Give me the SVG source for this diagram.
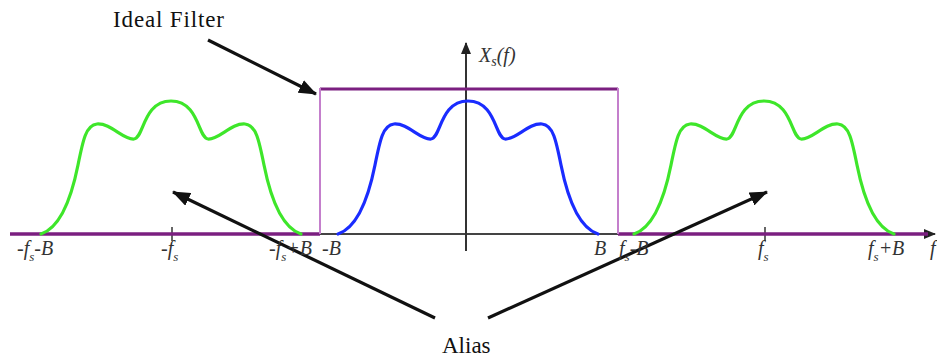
<svg xmlns="http://www.w3.org/2000/svg" width="937" height="358" viewBox="0 0 937 358">
<style>
.lbl{font-family:"Liberation Serif","Times New Roman",serif;font-style:italic;font-size:20px;fill:#333}
.cap{font-family:"Liberation Serif","Times New Roman",serif;font-size:23px;fill:#111}
.spec{fill:none;stroke-width:3.2;stroke-linecap:round}
.ptr{stroke:#111;stroke-width:3.2;fill:none}
</style>
<defs>
<path id="spectrum" d="M -130,234 C -112,228 -100,200 -93,165 C -88,140 -85,125 -74,124 C -60,123 -48,140 -37,139 C -27,138 -28,101 0,101 C 28,101 27,138 37,139 C 48,140 60,123 74,124 C 85,125 88,140 93,165 C 100,200 112,228 130,234"/>
<marker id="ah" markerUnits="userSpaceOnUse" markerWidth="18" markerHeight="14" refX="17" refY="7" orient="auto"><path d="M0,0 L18,7 L0,14 Z" fill="#111"/></marker>
<marker id="axh" markerUnits="userSpaceOnUse" markerWidth="12" markerHeight="10" refX="11" refY="5" orient="auto"><path d="M0,0 L12,5 L0,10 Z" fill="#222"/></marker>
</defs>
<g id="axes">
<line x1="10" y1="234" x2="935" y2="234" stroke="#444" stroke-width="2" marker-end="url(#axh)"/>
<line x1="466" y1="251" x2="466" y2="43" stroke="#333" stroke-width="2" marker-end="url(#axh)"/>
<line x1="172" y1="227" x2="172" y2="241" stroke="#333" stroke-width="1.5"/>
<line x1="765" y1="227" x2="765" y2="241" stroke="#333" stroke-width="1.5"/>
</g>
<g id="filter">
<line x1="10" y1="234" x2="320" y2="234" stroke="#7b1f80" stroke-width="3.5"/>
<line x1="618" y1="234" x2="928" y2="234" stroke="#7b1f80" stroke-width="3.5"/>
<line x1="320" y1="89" x2="618" y2="89" stroke="#7b1f80" stroke-width="3"/>
<line x1="320" y1="88" x2="320" y2="234" stroke="#c47fcc" stroke-width="2"/>
<line x1="618" y1="88" x2="618" y2="234" stroke="#c47fcc" stroke-width="2"/>
</g>
<g id="spectra">
<use href="#spectrum" class="spec" stroke="#3ee62a" transform="translate(171,0)"/>
<use href="#spectrum" class="spec" stroke="#1a2cff" transform="translate(468,0)"/>
<use href="#spectrum" class="spec" stroke="#3ee62a" transform="translate(764,0)"/>
</g>
<g id="connectors">
<line class="ptr" x1="208" y1="40" x2="316" y2="94" marker-end="url(#ah)"/>
<line class="ptr" x1="435" y1="318" x2="173" y2="192" marker-end="url(#ah)"/>
<line class="ptr" x1="488" y1="318" x2="767" y2="192" marker-end="url(#ah)"/>
</g>
<g id="labels">
<text class="cap" x="113" y="27" textLength="111">Ideal Filter</text>
<text class="cap" x="442" y="353">Alias</text>
<text class="lbl" x="479" y="62" font-size="22">X<tspan font-size="14" dy="4">s</tspan><tspan dy="-4">(f)</tspan></text>
<text class="lbl" x="17" y="255">-f<tspan font-size="13" dy="6">s</tspan><tspan dy="-6">-B</tspan></text>
<text class="lbl" x="161" y="255">-f<tspan font-size="13" dy="6">s</tspan></text>
<text class="lbl" x="269" y="255">-f<tspan font-size="13" dy="6">s</tspan><tspan dy="-6">+B</tspan></text>
<text class="lbl" x="322" y="255">-B</text>
<text class="lbl" x="594" y="255">B</text>
<text class="lbl" x="619" y="255">f<tspan font-size="13" dy="6">s</tspan><tspan dy="-6">-B</tspan></text>
<text class="lbl" x="758" y="255">f<tspan font-size="13" dy="6">s</tspan></text>
<text class="lbl" x="868" y="255">f<tspan font-size="13" dy="6">s</tspan><tspan dy="-6">+B</tspan></text>
<text class="lbl" x="930" y="255">f</text>
</g>
</svg>
